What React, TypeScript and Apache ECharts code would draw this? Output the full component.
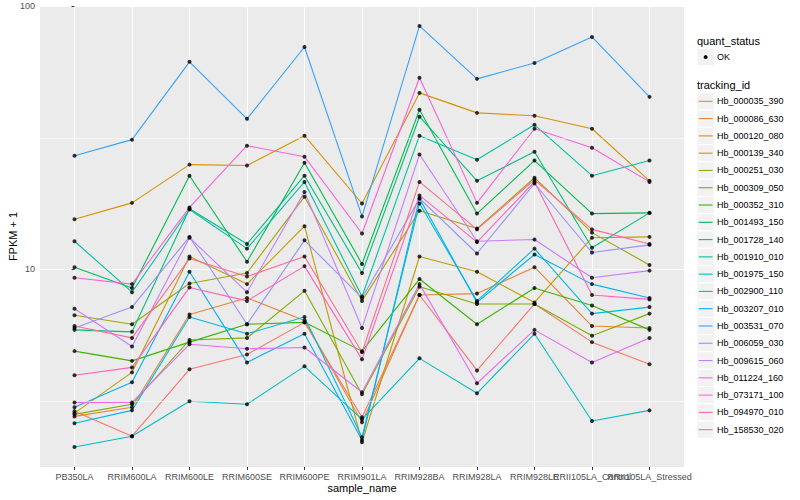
import React, { useEffect, useRef } from "react";
import * as echarts from "echarts";

const categories = [
  "PB350LA", "RRIM600LA", "RRIM600LE", "RRIM600SE", "RRIM600PE", "RRIM901LA",
  "RRIM928BA", "RRIM928LA", "RRIM928LE", "RRII105LA_Control", "RRII105LA_Stressed",
];

const trackingIds = [
  "Hb_000035_390", "Hb_000086_630", "Hb_000120_080", "Hb_000139_340", "Hb_000251_030",
  "Hb_000309_050", "Hb_000352_310", "Hb_001493_150", "Hb_001728_140", "Hb_001910_010",
  "Hb_001975_150", "Hb_002900_110", "Hb_003207_010", "Hb_003531_070", "Hb_006059_030",
  "Hb_009615_060", "Hb_011224_160", "Hb_073171_100", "Hb_094970_010", "Hb_158530_020",
];

const colors = [
  "#F8766D", "#EA8331", "#D89000", "#C09B00", "#A3A500", "#7CAE00", "#39B600", "#00BB4E",
  "#00BF7D", "#00C1A3", "#00BFC4", "#00BAE0", "#00B0F6", "#35A2FF", "#9590FF", "#C77CFF",
  "#E76BF3", "#FA62DB", "#FF62BC", "#FF6C91",
];

const hb_000035_390 = [2.90, 2.33, 4.18, 4.76, 6.3, 2.75, 8.0, 4.14, 7.4, 5.3, 4.37];
const hb_000086_630 = [2.77, 3.00, 6.75, 7.8, 6.4, 2.63, 8.0, 8.1, 10.2, 6.1, 6.0];
const hb_000120_080 = [15.5, 17.9, 25.0, 24.8, 32.2, 17.8, 46.8, 39.3, 38.3, 34.2, 21.7];
const hb_000139_340 = [2.85, 4.07, 11.2, 8.8, 14.6, 2.21, 11.2, 9.8, 7.5, 13.2, 13.3];
const hb_000251_030 = [6.7, 6.2, 8.85, 9.7, 18.9, 7.6, 16.7, 14.3, 22.3, 13.8, 10.4];
const hb_000309_050 = [2.82, 3.08, 5.4, 5.5, 8.3, 3.36, 8.6, 7.4, 7.4, 5.6, 6.8];
const hb_000352_310 = [4.9, 4.5, 5.3, 6.2, 6.3, 4.9, 9.2, 6.2, 8.5, 7.3, 5.9];
const hb_001493_150 = [10.2, 8.5, 22.7, 10.7, 25.4, 10.5, 40.4, 16.3, 25.9, 16.3, 16.4];
const hb_001728_140 = [5.9, 5.8, 17.0, 12.5, 22.7, 9.7, 38.0, 21.7, 28.0, 12.1, 16.4];
const hb_001910_010 = [12.8, 8.2, 16.9, 12.0, 21.5, 7.9, 32.2, 26.1, 35.4, 22.7, 25.9];
const hb_001975_150 = [2.12, 2.33, 3.16, 3.08, 4.29, 2.70, 4.6, 3.39, 5.7, 2.66, 2.92];
const hb_002900_110 = [2.61, 2.92, 6.6, 5.7, 6.6, 2.31, 17.8, 7.6, 12.0, 6.8, 7.2];
const hb_003207_010 = [3.00, 3.73, 9.8, 4.44, 5.7, 2.25, 18.6, 7.5, 11.4, 8.8, 7.8];
const hb_003531_070 = [27.0, 31.1, 61.4, 37.3, 69.9, 15.9, 84.0, 52.9, 60.8, 76.3, 45.2];
const hb_006059_030 = [6.0, 7.2, 13.3, 6.2, 12.9, 7.8, 18.6, 11.5, 21.2, 11.6, 12.4];
const hb_009615_060 = [7.1, 5.1, 13.2, 8.2, 19.7, 6.0, 27.3, 12.8, 13.0, 9.3, 9.9];
const hb_011224_160 = [3.13, 3.13, 5.2, 5.0, 5.06, 3.42, 8.8, 3.70, 5.9, 4.44, 5.5];
const hb_073171_100 = [9.3, 8.8, 17.2, 29.5, 26.8, 13.7, 53.4, 17.9, 34.2, 29.0, 21.5];
const hb_094970_010 = [3.97, 4.25, 8.55, 7.6, 10.3, 4.56, 19.1, 12.7, 21.5, 8.0, 7.7];
const hb_158530_020 = [6.1, 5.5, 11.0, 9.4, 11.2, 4.85, 21.5, 14.2, 21.9, 14.2, 12.5];

const seriesValues = [
  hb_000035_390, hb_000086_630, hb_000120_080, hb_000139_340, hb_000251_030,
  hb_000309_050, hb_000352_310, hb_001493_150, hb_001728_140, hb_001910_010,
  hb_001975_150, hb_002900_110, hb_003207_010, hb_003531_070, hb_006059_030,
  hb_009615_060, hb_011224_160, hb_073171_100, hb_094970_010, hb_158530_020,
];

const yMinorBreaks = [3.162, 31.62];
const statusLevels = ["OK"];

const FONT = '"Liberation Sans", Arial, Helvetica, sans-serif';

export default function App() {
  const ref = useRef<HTMLDivElement>(null);

  useEffect(() => {
    const chart = echarts.init(ref.current as HTMLDivElement, null, { renderer: "svg" });
    const idx = categories.map((_, i) => i);
    const evenIdx = idx.filter((i) => i % 2 === 0);
    const oddIdx = idx.filter((i) => i % 2 === 1);

    const lineSeries: any[] = seriesValues.map((vals, k) => ({
      name: trackingIds[k],
      type: "line",
      data: vals.map((v, i) => [i, v]),
      showSymbol: false,
      symbol: "none",
      silent: true,
      z: 3,
      lineStyle: { color: colors[k], width: 1.1 },
      itemStyle: { color: colors[k] },
      emphasis: { disabled: true },
    }));

    const points: number[][] = [];
    seriesValues.forEach((vals) => vals.forEach((v, i) => points.push([i, v])));

    const keyX = 697;
    const keySize = 17.28;
    const firstKeyTop = 92.7;
    const legendChildren: any[] = [
      { type: "text", x: keyX, y: 41, style: { text: "quant_status", fill: "#000", fontSize: 11, fontFamily: FONT, verticalAlign: "middle" } },
      { type: "text", x: keyX, y: 85, style: { text: "tracking_id", fill: "#000", fontSize: 11, fontFamily: FONT, verticalAlign: "middle" } },
    ];
    statusLevels.forEach((lv, i) => {
      const top = 48.5 + i * keySize;
      legendChildren.push(
        { type: "rect", shape: { x: keyX, y: top, width: keySize, height: keySize }, style: { fill: "#F2F2F2", stroke: "#FFFFFF", lineWidth: 1 } },
        { type: "circle", shape: { cx: keyX + keySize / 2, cy: top + keySize / 2, r: 2 }, style: { fill: "#000" } },
        { type: "text", x: 717, y: top + keySize / 2, style: { text: lv, fill: "#000", fontSize: 9, fontFamily: FONT, verticalAlign: "middle" } }
      );
    });
    trackingIds.forEach((id, i) => {
      const top = firstKeyTop + i * keySize;
      const cy = top + keySize / 2;
      legendChildren.push(
        { type: "rect", shape: { x: keyX, y: top, width: keySize, height: keySize }, style: { fill: "#F2F2F2", stroke: "#FFFFFF", lineWidth: 1 } },
        { type: "line", shape: { x1: keyX + 1.7, y1: cy, x2: keyX + keySize - 1.7, y2: cy }, style: { stroke: colors[i], lineWidth: 1.1 } },
        { type: "text", x: 717, y: cy, style: { text: id, fill: "#000", fontSize: 9, fontFamily: FONT, verticalAlign: "middle" } }
      );
    });

    const labelStyle = {
      formatter: (v: number) => categories[Math.round(v)] ?? "",
      color: "#4D4D4D", fontSize: 9, margin: 5, fontFamily: FONT,
      hideOverlap: false,
    };

    chart.setOption({
      animation: false,
      backgroundColor: "#FFFFFF",
      textStyle: { fontFamily: FONT },
      grid: {
        left: 40, right: 116, top: 6, bottom: 33,
        show: true, backgroundColor: "#EBEBEB", borderWidth: 0,
        containLabel: false, outerBoundsMode: "none",
      },
      xAxis: [
        {
          type: "value",
          position: "bottom",
          min: -0.6,
          max: 10.6,
          axisLine: { show: false },
          axisTick: { show: true, length: 3, customValues: idx, lineStyle: { color: "#333333", width: 1 } },
          axisLabel: { ...labelStyle, customValues: evenIdx },
          splitLine: { show: true, lineStyle: { color: "#FFFFFF", width: 1.1 } },
          name: "sample_name",
          nameLocation: "middle",
          nameGap: 15,
          nameMoveOverlap: false,
          nameTextStyle: { color: "#000", fontSize: 11, fontFamily: FONT },
        },
        {
          type: "value",
          position: "bottom",
          offset: 0,
          min: -0.6,
          max: 10.6,
          axisLine: { show: false },
          axisTick: { show: false, customValues: oddIdx },
          axisLabel: { ...labelStyle, customValues: oddIdx },
          splitLine: { show: false },
        },
      ],
      yAxis: {
        type: "log",
        logBase: 10,
        min: 1.78,
        max: 100,
        axisLine: { show: false },
        axisTick: { show: true, length: 3, lineStyle: { color: "#333333", width: 1 } },
        axisLabel: { showMinLabel: false, color: "#4D4D4D", fontSize: 9, margin: 5, fontFamily: FONT },
        splitLine: { show: true, lineStyle: { color: "#FFFFFF", width: 1.1 } },
        name: "FPKM + 1",
        nameLocation: "middle",
        nameGap: 22,
        nameRotate: 90,
        nameMoveOverlap: false,
        nameTextStyle: { color: "#000", fontSize: 11, fontFamily: FONT },
      },
      series: [
        {
          type: "line",
          data: [],
          z: 1,
          silent: true,
          markLine: {
            silent: true,
            symbol: ["none", "none"],
            label: { show: false },
            lineStyle: { color: "#FFFFFF", width: 0.55, type: "solid" },
            data: yMinorBreaks.map((v) => ({ yAxis: v })),
          },
        },
        ...lineSeries,
        {
          type: "scatter",
          data: points,
          symbol: "circle",
          symbolSize: 4,
          z: 5,
          silent: true,
          itemStyle: { color: "#000000" },
        },
      ],
      graphic: [{ type: "group", children: legendChildren }],
    });

    return () => chart.dispose();
  }, []);

  return <div ref={ref} style={{ position: "absolute", left: 0, top: 0, width: 800, height: 500 }} />;
}
